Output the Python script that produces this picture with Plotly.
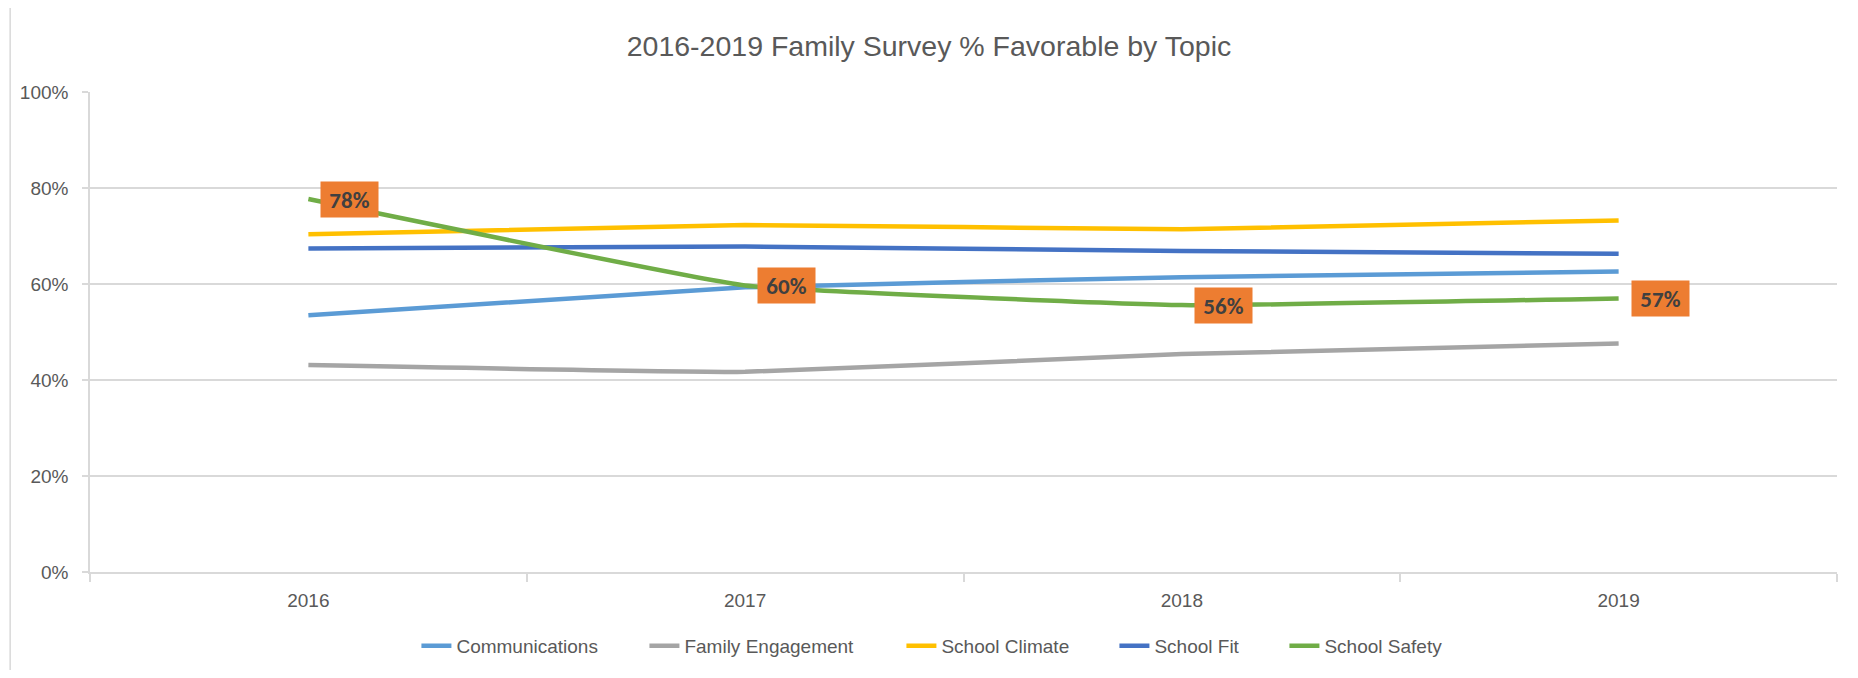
import plotly.graph_objects as go

years = ["2016", "2017", "2018", "2019"]
communications = [0.535, 0.593, 0.614, 0.626]
family_engagement = [0.431, 0.417, 0.454, 0.476]
school_climate = [0.7035, 0.723, 0.714, 0.7325]
school_fit = [0.674, 0.678, 0.669, 0.663]
school_safety = [0.777, 0.597, 0.556, 0.570]
y_ticks = [0, 0.2, 0.4, 0.6, 0.8, 1.0]
y_tick_labels = ["0%", "20%", "40%", "60%", "80%", "100%"]

series_names = ["Communications", "Family Engagement", "School Climate", "School Fit", "School Safety"]
series_values = [communications, family_engagement, school_climate, school_fit, school_safety]
series_colors = ["#5B9BD5", "#A5A5A5", "#FFC000", "#4472C4", "#70AD47"]
legend_widths = [183, 212, 168, 125, 170]

LABEL_FONT = "Calibri, Carlito, Liberation Sans, Arial, sans-serif"
FONT = "Liberation Sans, Arial, sans-serif"
GRID = "#D9D9D9"
TXT = "#595959"

W, H = 1842, 662

fig = go.Figure()
for name, vals, color, lw in zip(series_names, series_values, series_colors, legend_widths):
    fig.add_trace(go.Scatter(
        x=years, y=vals, name=name, mode="lines",
        line=dict(color=color, width=4.5, shape="spline", smoothing=0.3),
        legendwidth=lw,
    ))

for i, v in enumerate(school_safety):
    fig.add_annotation(
        x=i, y=v, xref="x", yref="y",
        text="<b>%d%%</b>" % round(v * 100),
        showarrow=False, xanchor="left", yanchor="middle", xshift=12,
        bgcolor="#ED7D31", width=57, height=35, borderpad=0,
        font=dict(family=LABEL_FONT, size=23, color="#404040"),
    )

fig.add_shape(type="rect", xref="paper", yref="paper",
              x0=-0.0457, x1=1.02, y0=-0.25, y1=1.179,
              line=dict(color=GRID, width=1.5), fillcolor="rgba(0,0,0,0)", layer="below")

fig.update_layout(
    width=W, height=H,
    margin=dict(l=79, r=13, t=84, b=98),
    paper_bgcolor="white", plot_bgcolor="white",
    title=dict(text="2016-2019 Family Survey % Favorable by Topic",
               x=0.5, xref="container", xanchor="center", y=1 - 38 / H, yanchor="middle",
               font=dict(family=FONT, size=28.5, color=TXT)),
    showlegend=True,
    legend=dict(orientation="h", x=0.5157, xref="container", xanchor="center",
                y=1 - 638 / H, yref="container", yanchor="middle",
                font=dict(family=FONT, size=19, color=TXT),
                itemwidth=30, tracegroupgap=0),
    font=dict(family=FONT, color=TXT),
)

fig.update_xaxes(
    type="category", range=[-0.5, 3.5], tickson="boundaries",
    ticks="outside", ticklen=8, tickcolor=GRID, tickwidth=1.5,
    showline=True, linecolor=GRID, linewidth=1.5, showgrid=False,
    tickfont=dict(family=FONT, size=19, color=TXT),
    ticklabelstandoff=10, fixedrange=True,
)
fig.update_yaxes(
    range=[0, 1], tickvals=y_ticks, ticktext=y_tick_labels,
    ticks="outside", ticklen=6, tickcolor=GRID, tickwidth=1.5,
    showline=True, linecolor=GRID, linewidth=1.5,
    showgrid=True, gridcolor=GRID, gridwidth=1.5, zeroline=False,
    tickfont=dict(family=FONT, size=19, color=TXT),
    ticklabelstandoff=10, fixedrange=True,
)

fig.write_html("out.html")
